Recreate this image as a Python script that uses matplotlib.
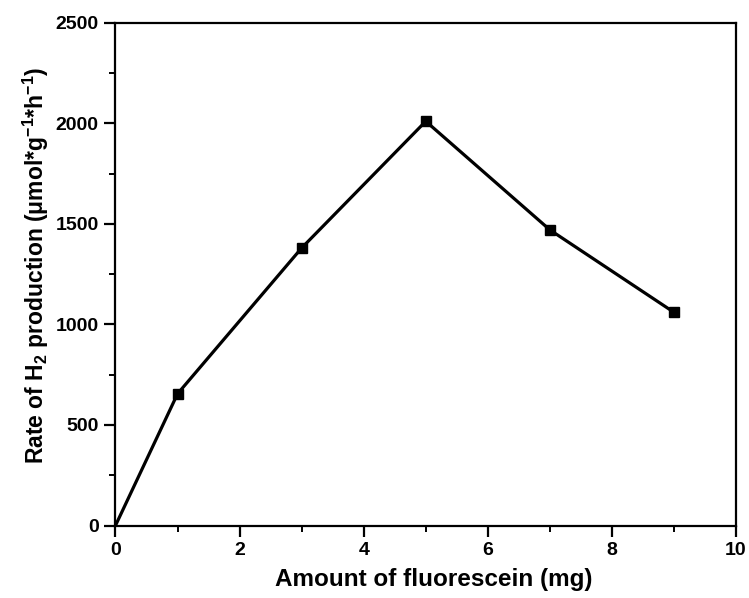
import matplotlib
matplotlib.use("Agg")
import matplotlib.pyplot as plt
from matplotlib.ticker import MultipleLocator

plt.rcParams["font.family"] = ["Liberation Sans", "DejaVu Sans"]
plt.rcParams["font.weight"] = "bold"
plt.rcParams["mathtext.fontset"] = "custom"
plt.rcParams["mathtext.rm"] = "Liberation Sans:bold"
plt.rcParams["mathtext.bf"] = "Liberation Sans:bold"
plt.rcParams["mathtext.default"] = "bf"

fluorescein_mg = [0, 1, 3, 5, 7, 9]
h2_rate = [0, 655, 1380, 2010, 1470, 1060]

fig = plt.figure(figsize=(7.49, 5.98), dpi=100)
ax = fig.add_axes([0.1542, 0.1212, 0.8285, 0.8408])

# no marker is visible at the origin in the original figure
ax.plot(fluorescein_mg, h2_rate, color="black", linewidth=2.3,
        marker="s", markersize=7, markevery=slice(1, None))

ax.set_xlim(0, 10)
ax.set_ylim(0, 2500)
ax.xaxis.set_major_locator(MultipleLocator(2))
ax.xaxis.set_minor_locator(MultipleLocator(1))
ax.yaxis.set_major_locator(MultipleLocator(500))
ax.yaxis.set_minor_locator(MultipleLocator(250))
ax.tick_params(which="major", direction="out", length=8, width=1.6,
               labelsize=14, pad=4)
ax.tick_params(which="minor", direction="out", length=4.5, width=1.4)
for side in ax.spines.values():
    side.set_linewidth(1.6)

ax.set_xlabel("Amount of fluorescein (mg)", fontsize=17.5, fontweight="bold")
ax.set_ylabel("Rate of H$_2$ production (\u03bcmol*g$^{-1}$*h$^{-1}$)",
              fontsize=16.5, fontweight="bold")
ax.xaxis.set_label_coords(0.513, -0.085)
ax.yaxis.set_label_coords(-0.104, 0.518)

fig.savefig("out.png", dpi=100)
